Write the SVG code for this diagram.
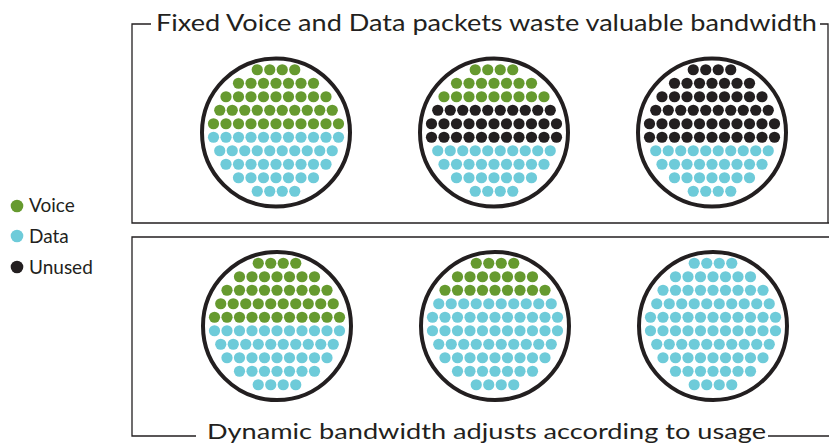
<svg xmlns="http://www.w3.org/2000/svg" xmlns:xlink="http://www.w3.org/1999/xlink" width="829" height="445" viewBox="0 0 829 445">
<style>
.frame{fill:none;stroke:#231f20;stroke-width:1.3}
.ring{fill:#fff;stroke:#231f20;stroke-width:4}
.v{fill:#669a2f}
.d{fill:#6ecbd9}
.u{fill:#231f20}
.t{font-family:Lato,"Open Sans","Liberation Sans",sans-serif;fill:#231f20}
</style>
<defs>
<g id="r4"><circle cx="-18.75" r="5.6"/><circle cx="-6.25" r="5.6"/><circle cx="6.25" r="5.6"/><circle cx="18.75" r="5.6"/></g>
<g id="r7"><circle cx="-37.5" r="5.6"/><circle cx="-25" r="5.6"/><circle cx="-12.5" r="5.6"/><circle cx="0" r="5.6"/><circle cx="12.5" r="5.6"/><circle cx="25" r="5.6"/><circle cx="37.5" r="5.6"/></g>
<g id="r9"><circle cx="-50" r="5.6"/><circle cx="-37.5" r="5.6"/><circle cx="-25" r="5.6"/><circle cx="-12.5" r="5.6"/><circle cx="0" r="5.6"/><circle cx="12.5" r="5.6"/><circle cx="25" r="5.6"/><circle cx="37.5" r="5.6"/><circle cx="50" r="5.6"/></g>
<g id="r10"><circle cx="-56.25" r="5.6"/><circle cx="-43.75" r="5.6"/><circle cx="-31.25" r="5.6"/><circle cx="-18.75" r="5.6"/><circle cx="-6.25" r="5.6"/><circle cx="6.25" r="5.6"/><circle cx="18.75" r="5.6"/><circle cx="31.25" r="5.6"/><circle cx="43.75" r="5.6"/><circle cx="56.25" r="5.6"/></g>
<g id="r11"><circle cx="-62.5" r="5.6"/><circle cx="-50" r="5.6"/><circle cx="-37.5" r="5.6"/><circle cx="-25" r="5.6"/><circle cx="-12.5" r="5.6"/><circle cx="0" r="5.6"/><circle cx="12.5" r="5.6"/><circle cx="25" r="5.6"/><circle cx="37.5" r="5.6"/><circle cx="50" r="5.6"/><circle cx="62.5" r="5.6"/></g>
</defs>

<g id="connectors">
<polyline class="frame" points="151,24 132,24 132,223 829,223"/>
<polyline class="frame" points="820,24 828,24 828,223"/>
<polyline class="frame" points="829,237 132,237 132,436 196,436"/>
<line class="frame" x1="768" y1="436" x2="829" y2="436"/>
</g>

<g id="title-top"><text class="t" x="156" y="31" font-size="23" textLength="661" lengthAdjust="spacingAndGlyphs">Fixed Voice and Data packets waste valuable bandwidth</text></g>
<g id="title-bottom"><text class="t" x="207" y="439" font-size="22" textLength="559" lengthAdjust="spacingAndGlyphs">Dynamic bandwidth adjusts according to usage</text></g>

<g id="legend">
<circle class="v" cx="17" cy="206" r="6.3"/><text class="t" x="29" y="212" font-size="19">Voice</text>
<circle class="d" cx="17" cy="236" r="6.3"/><text class="t" x="29" y="243" font-size="19">Data</text>
<circle class="u" cx="17" cy="267" r="6.3"/><text class="t" x="29" y="274" font-size="19">Unused</text>
</g>

<g id="fixed-1" transform="translate(276,132.5)">
<circle class="ring" r="74"/>
<use href="#r4" y="-62.75" class="v"/><use href="#r7" y="-49.25" class="v"/><use href="#r9" y="-35.75" class="v"/><use href="#r10" y="-22.25" class="v"/><use href="#r11" y="-8.75" class="v"/>
<use href="#r11" y="4.75" class="d"/><use href="#r10" y="18.25" class="d"/><use href="#r9" y="31.75" class="d"/><use href="#r7" y="45.25" class="d"/><use href="#r4" y="58.75" class="d"/>
</g>
<g id="fixed-2" transform="translate(494,132.5)">
<circle class="ring" r="74"/>
<use href="#r4" y="-62.75" class="v"/><use href="#r7" y="-49.25" class="v"/><use href="#r9" y="-35.75" class="v"/><use href="#r10" y="-22.25" class="u"/><use href="#r11" y="-8.75" class="u"/>
<use href="#r11" y="4.75" class="u"/><use href="#r10" y="18.25" class="d"/><use href="#r9" y="31.75" class="d"/><use href="#r7" y="45.25" class="d"/><use href="#r4" y="58.75" class="d"/>
</g>
<g id="fixed-3" transform="translate(712,132.5)">
<circle class="ring" r="74"/>
<use href="#r4" y="-62.75" class="u"/><use href="#r7" y="-49.25" class="u"/><use href="#r9" y="-35.75" class="u"/><use href="#r10" y="-22.25" class="u"/><use href="#r11" y="-8.75" class="u"/>
<use href="#r11" y="4.75" class="u"/><use href="#r10" y="18.25" class="d"/><use href="#r9" y="31.75" class="d"/><use href="#r7" y="45.25" class="d"/><use href="#r4" y="58.75" class="d"/>
</g>

<g id="dynamic-1" transform="translate(277,326)">
<circle class="ring" r="74"/>
<use href="#r4" y="-62.75" class="v"/><use href="#r7" y="-49.25" class="v"/><use href="#r9" y="-35.75" class="v"/><use href="#r10" y="-22.25" class="v"/><use href="#r11" y="-8.75" class="v"/>
<use href="#r11" y="4.75" class="d"/><use href="#r10" y="18.25" class="d"/><use href="#r9" y="31.75" class="d"/><use href="#r7" y="45.25" class="d"/><use href="#r4" y="58.75" class="d"/>
</g>
<g id="dynamic-2" transform="translate(495,326)">
<circle class="ring" r="74"/>
<use href="#r4" y="-62.75" class="v"/><use href="#r7" y="-49.25" class="v"/><use href="#r9" y="-35.75" class="v"/><use href="#r10" y="-22.25" class="d"/><use href="#r11" y="-8.75" class="d"/>
<use href="#r11" y="4.75" class="d"/><use href="#r10" y="18.25" class="d"/><use href="#r9" y="31.75" class="d"/><use href="#r7" y="45.25" class="d"/><use href="#r4" y="58.75" class="d"/>
</g>
<g id="dynamic-3" transform="translate(713,326)">
<circle class="ring" r="74"/>
<use href="#r4" y="-62.75" class="d"/><use href="#r7" y="-49.25" class="d"/><use href="#r9" y="-35.75" class="d"/><use href="#r10" y="-22.25" class="d"/><use href="#r11" y="-8.75" class="d"/>
<use href="#r11" y="4.75" class="d"/><use href="#r10" y="18.25" class="d"/><use href="#r9" y="31.75" class="d"/><use href="#r7" y="45.25" class="d"/><use href="#r4" y="58.75" class="d"/>
</g>
</svg>
